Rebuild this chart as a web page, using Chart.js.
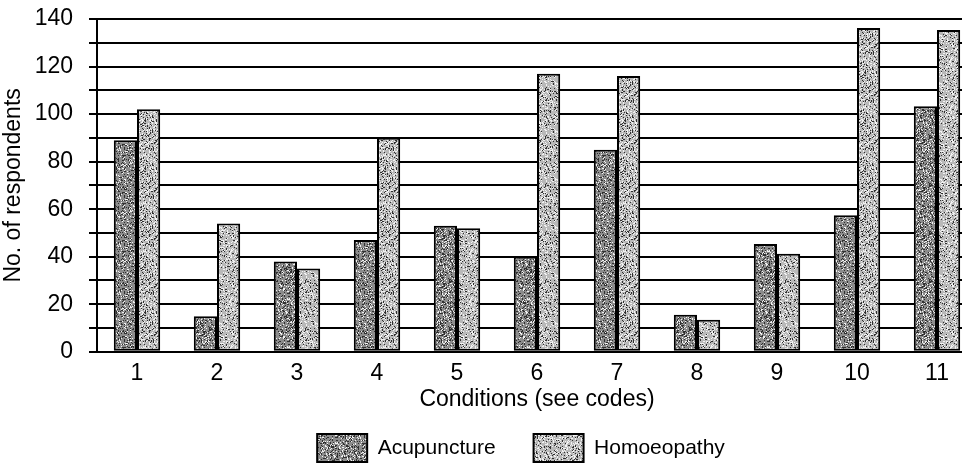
<!DOCTYPE html>
<html>
<head>
<meta charset="utf-8">
<script src="https://cdn.jsdelivr.net/npm/chart.js@4"></script>
<style>
  html, body { margin: 0; padding: 0; background: #fff; overflow: hidden; }
  #wrap { width: 985px; height: 470px; }
</style>
</head>
<body>
<div id="wrap"><canvas id="c"></canvas></div>
<script>
const categories = ['1','2','3','4','5','6','7','8','9','10','11'];
const acupuncture = [89, 15, 38, 47, 53, 40, 85, 15.6, 45.3, 57.4, 103.3];
const homoeopathy = [102, 54, 35, 90, 52, 117, 116, 13.5, 41.2, 136.2, 135.4];
const seriesNames = ['Acupuncture', 'Homoeopathy'];
const yTickLabelsEvery = 20;

function makePattern(base, darkRate, lightRate) {
  const c = document.createElement('canvas');
  c.width = 48; c.height = 48;
  const g = c.getContext('2d');
  g.fillStyle = base;
  g.fillRect(0, 0, 48, 48);
  for (let y = 0; y < 48; y++) {
    for (let x = 0; x < 48; x++) {
      const h = ((x * 73856093) ^ (y * 19349663) ^ (x * y * 83492791)) >>> 0;
      const m = h % 100;
      if (m < darkRate) { g.fillStyle = '#303030'; g.fillRect(x, y, 1, 1); }
      else if (m > 100 - lightRate) { g.fillStyle = '#f2f2f2'; g.fillRect(x, y, 1, 1); }
    }
  }
  return g.createPattern(c, 'repeat');
}
const ctx = document.getElementById('c').getContext('2d');
const patA = makePattern('#8c8c8c', 22, 14);
const patH = makePattern('#b9b9b9', 14, 22);
const font = "'Liberation Sans', Arial, sans-serif";

const legendShift = {
  id: 'legendShift',
  afterLayout(chart) {
    const l = chart.legend;
    if (l) { l.left -= 16; l.right -= 16; l.top -= 17; l.bottom -= 17; }
  }
};

new Chart(ctx, {
  type: 'bar',
  data: {
    labels: categories,
    datasets: [
      { label: seriesNames[0], data: acupuncture, backgroundColor: patA, borderColor: '#000', borderWidth: 2, borderSkipped: false },
      { label: seriesNames[1], data: homoeopathy, backgroundColor: patH, borderColor: '#000', borderWidth: 2, borderSkipped: false }
    ]
  },
  plugins: [legendShift],
  options: {
    responsive: true,
    maintainAspectRatio: false,
    animation: false,
    devicePixelRatio: 1,
    layout: { padding: { left: 0, right: 8, top: 19, bottom: -19 } },
    datasets: { bar: { categoryPercentage: 0.58, barPercentage: 1.0 } },
    plugins: {
      tooltip: { enabled: false },
      legend: {
        position: 'bottom',
        fullSize: false,
        labels: {
          color: '#000',
          font: { family: font, size: 21 },
          boxWidth: 50, boxHeight: 28,
          padding: 38
        }
      }
    },
    scales: {
      x: {
        grid: { display: false, drawTicks: false },
        border: { display: false },
        ticks: { color: '#000', font: { family: font, size: 23 }, padding: 8 },
        title: { display: true, text: 'Conditions (see codes)', color: '#000', font: { family: font, size: 23 }, padding: { top: -10, bottom: 0 } }
      },
      y: {
        min: 0, max: 140,
        afterFit: (s) => { s.width = 97; s.paddingTop = 0; },
        grid: { color: '#000', lineWidth: 2, drawTicks: true, tickLength: 8, tickColor: '#000' },
        border: { display: true, color: '#000', width: 2 },
        ticks: {
          stepSize: 10,
          autoSkip: false,
          color: '#000',
          font: { family: font, size: 23 },
          padding: 16,
          callback: (v) => (v % yTickLabelsEvery === 0 ? v : '')
        },
        title: { display: true, text: 'No. of respondents', color: '#000', font: { family: font, size: 23 }, padding: { top: 0, bottom: 2 } }
      }
    }
  }
});
</script>
</body>
</html>
